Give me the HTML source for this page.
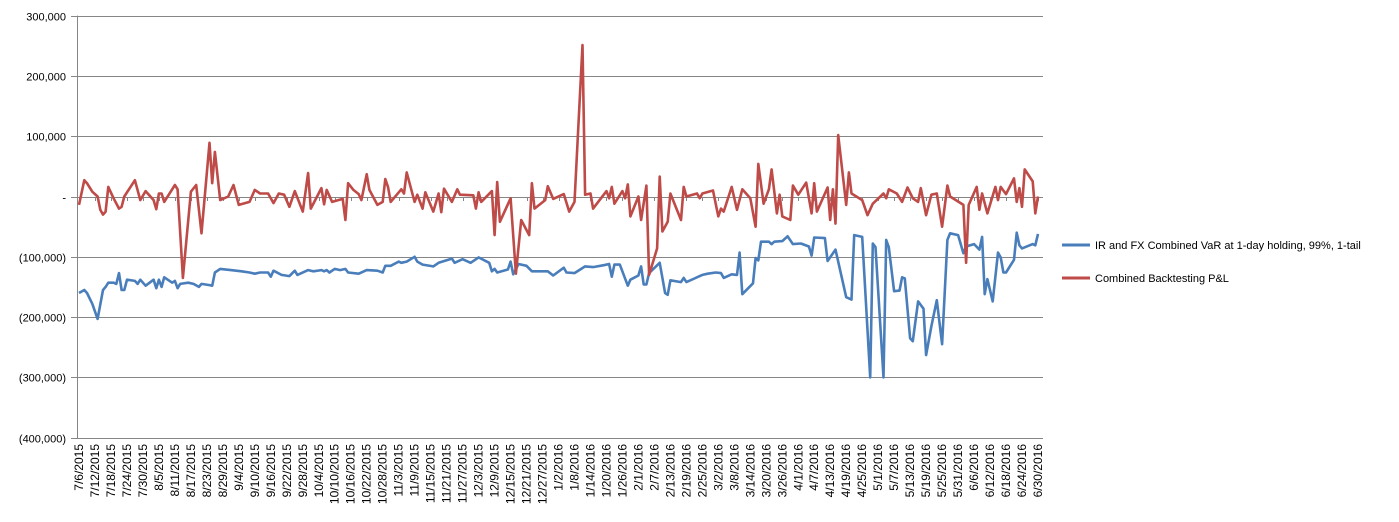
<!DOCTYPE html>
<html><head><meta charset="utf-8">
<style>
html,body{margin:0;padding:0;background:#fff;}
svg{display:block;font-family:"Liberation Sans",Arial,sans-serif;}
</style></head>
<body>
<svg id="chart" width="1399" height="522" viewBox="0 0 1399 522" xmlns="http://www.w3.org/2000/svg">
<g id="grid"></g>
<g id="yaxis"></g>
<g id="xaxis"></g>
<g id="series"></g>
<g id="legend">
  <g>
    <line x1="1062" y1="245" x2="1090" y2="245" stroke="#4a7ebb" stroke-width="3"/>
    <text x="1095" y="249" font-size="11" fill="#000">IR and FX Combined VaR at 1-day holding, 99%, 1-tail</text>
  </g>
  <g>
    <line x1="1062" y1="278" x2="1090" y2="278" stroke="#be4b48" stroke-width="3"/>
    <text x="1095" y="282" font-size="11" fill="#000">Combined Backtesting P&amp;L</text>
  </g>
</g>
</svg>
<script>
// y ticks (thousands)
const yTicks = [300, 200, 100, 0, -100, -200, -300, -400];
// day offsets from 7/6/2015 and values (thousands)
const pnlDays = [0,2,3,5,7,8,9,10,11,13,15,16,17,21,23,25,28,29,30,31,32,36,37,39,42,44,46,49,50,51,53,56,58,60,64,66,68,71,73,75,77,79,81,84,86,87,91,92,93,95,99,100,101,103,105,106,108,109,112,114,115,116,117,121,122,123,126,127,129,130,133,135,136,137,140,142,143,148,149,150,151,155,156,157,158,162,164,166,169,170,171,175,176,178,182,184,186,189,190,192,193,198,199,200,201,204,205,206,207,210,211,213,214,217,218,219,221,222,226,227,228,232,233,234,238,240,241,242,245,247,249,252,254,255,257,259,260,262,263,264,267,268,270,273,275,276,277,281,282,283,284,285,288,289,290,294,296,298,302,303,304,307,309,311,313,315,316,318,320,322,324,326,327,332,333,334,337,338,339,341,344,345,346,348,351,352,353,354,355,358,359,360];
const pnlValues = [-14,27,22,8,0,-22,-30,-25,16,-3,-20,-17,0,27,-6,9,-6,-21,5,5,-9,19,12,-135,8,19,-61,89,22,74,-6,0,19,-14,-9,11,5,5,-11,5,3,-17,9,-25,39,-20,14,-13,11,-9,-4,-39,22,11,4,-6,37,11,-14,-9,29,16,-9,12,5,40,-9,3,-20,7,-25,5,-26,13,-9,12,3,2,-20,7,-9,9,-64,24,-42,-3,-128,-39,-64,22,-20,-6,17,-4,4,-25,-9,251,3,5,-20,9,-3,16,-12,9,-3,20,-33,0,-39,18,-130,-86,33,-58,-42,5,-39,16,0,5,-3,5,10,-33,-20,-25,16,-22,12,-3,-50,54,-12,12,45,-28,3,-33,-39,18,3,23,-28,22,-25,15,-39,12,-45,102,-14,40,5,-6,-31,-12,5,-3,12,5,-9,15,-3,-9,14,-31,3,5,-50,18,0,-14,-110,-14,16,-22,5,-28,16,-6,16,4,30,-9,14,-17,45,25,-28,0];
const varDays = [0,2,3,5,7,9,10,11,13,14,15,16,17,18,21,22,23,25,28,29,30,31,32,35,36,37,38,41,43,45,46,49,50,51,53,57,61,64,66,68,71,72,73,76,79,81,82,86,88,91,92,93,94,96,98,100,101,105,108,112,114,115,117,120,121,123,126,127,129,133,135,140,141,144,147,150,154,155,156,157,161,162,163,165,168,170,176,178,182,183,186,190,193,197,199,200,201,203,206,207,210,211,212,213,214,218,220,221,222,226,227,228,231,233,234,236,239,241,242,245,247,248,249,253,254,255,256,259,260,261,264,266,268,271,274,275,276,280,281,284,288,290,291,294,297,298,299,302,303,304,306,308,309,310,312,313,315,317,318,320,322,324,326,327,330,332,333,336,338,339,340,341,343,345,346,347,348,351,352,353,354,358,359,360];
const varValues = [-160,-155,-160,-178,-203,-155,-150,-143,-143,-145,-127,-155,-155,-138,-140,-145,-138,-148,-138,-152,-138,-150,-134,-143,-140,-152,-145,-143,-145,-150,-145,-147,-148,-126,-120,-122,-124,-126,-128,-126,-126,-133,-123,-130,-132,-123,-130,-122,-124,-122,-124,-122,-126,-120,-122,-120,-126,-128,-122,-123,-126,-115,-115,-108,-110,-108,-100,-108,-113,-116,-110,-103,-110,-104,-110,-101,-110,-124,-120,-126,-121,-108,-129,-112,-115,-124,-124,-131,-118,-126,-127,-116,-117,-114,-112,-133,-113,-113,-148,-138,-131,-116,-146,-146,-127,-110,-160,-163,-139,-142,-135,-142,-136,-132,-130,-128,-126,-127,-135,-129,-130,-93,-162,-144,-102,-106,-75,-75,-79,-75,-74,-66,-79,-78,-83,-98,-68,-69,-107,-88,-167,-171,-64,-67,-300,-78,-84,-300,-72,-84,-157,-156,-134,-136,-235,-240,-174,-186,-263,-215,-172,-245,-72,-61,-64,-94,-83,-79,-88,-67,-162,-137,-174,-93,-101,-126,-126,-105,-60,-81,-86,-79,-81,-62];

const NS = "http://www.w3.org/2000/svg";
const X0 = 79, X1 = 1038, DMAX = 360;
const Y0 = 196.5, PX_PER_K = 0.603;
function xScale(d){ return X0 + (X1 - X0) * d / DMAX; }
function yScale(v){ return Y0 - v * PX_PER_K; }
function mk(tag, attrs){ const e = document.createElementNS(NS, tag); for (const k in attrs) e.setAttribute(k, attrs[k]); return e; }
function fmt(v){
  if (v === 0) return "-";
  const s = Math.abs(v * 1000).toLocaleString("en-US");
  return v < 0 ? "(" + s + ")" : s;
}
const grid = document.getElementById("grid");
const yaxis = document.getElementById("yaxis");
yTicks.forEach(t => {
  const y = Math.round(yScale(t)) + 0.5;
  const l = mk("line", {x1: 71, x2: 1043, y1: y, y2: y, stroke: "#868686", "stroke-width": 1});
  
  
  grid.appendChild(l);
  const tx = mk("text", {x: 66, y: y + 4, "text-anchor": "end", "font-size": 11, fill: "#000"});
  tx.textContent = fmt(t);
  
  
  yaxis.appendChild(tx);
});
const ax = mk("line", {x1: 77.5, x2: 77.5, y1: yScale(300), y2: yScale(-400) + 1, stroke: "#868686", "stroke-width": 1});


yaxis.appendChild(ax);

// x labels every 6 days
const xaxis = document.getElementById("xaxis");
const start = new Date(2015, 6, 6);
for (let d = 0; d <= DMAX; d += 6) {
  const dt = new Date(start.getTime()); dt.setDate(dt.getDate() + d);
  const label = (dt.getMonth() + 1) + "/" + dt.getDate() + "/" + dt.getFullYear();
  const x = xScale(d);
  const tk = mk("line", {x1: Math.round(x) + 0.5, x2: Math.round(x) + 0.5, y1: 197, y2: 201, stroke: "#868686", "stroke-width": 1});
  
  
  xaxis.appendChild(tk);
  const t = mk("text", {x: 0, y: 0, "text-anchor": "end", "font-size": 12, fill: "#000", transform: "translate(" + (x + 4) + ",444) rotate(-90)"});
  t.textContent = label;
  
  
  xaxis.appendChild(t);
}
const series = document.getElementById("series");
function path(days, vals){ return days.map((d, i) => (i ? "L" : "M") + xScale(d).toFixed(1) + " " + yScale(vals[i]).toFixed(1)).join(" "); }
const pv = mk("path", {d: path(varDays, varValues), fill: "none", stroke: "#4a7ebb", "stroke-width": 2.6, "stroke-linejoin": "round"});


series.appendChild(pv);
const pp = mk("path", {d: path(pnlDays, pnlValues), fill: "none", stroke: "#be4b48", "stroke-width": 2.6, "stroke-linejoin": "round"});


series.appendChild(pp);
</script>
</body></html>
